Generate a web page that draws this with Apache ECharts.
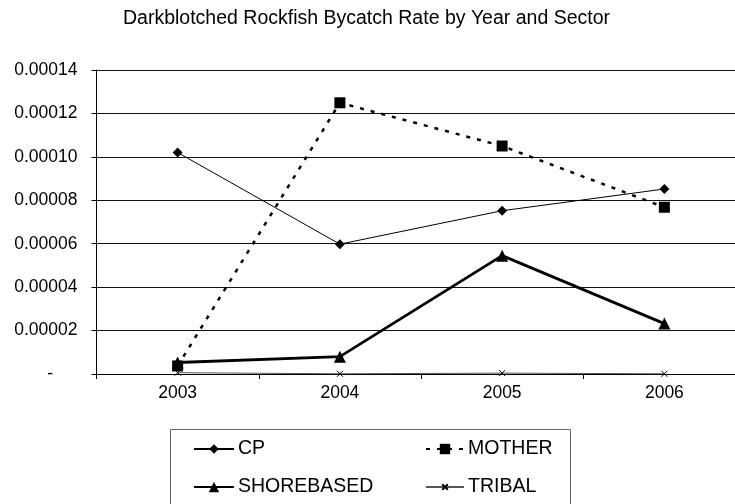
<!DOCTYPE html>
<html>
<head>
<meta charset="utf-8">
<script src="https://cdn.jsdelivr.net/npm/echarts@6/dist/echarts.min.js"></script>
<style>
  html, body { margin: 0; padding: 0; background: #fff; overflow: hidden; width: 735px; height: 504px; }
  /* the drawing is a little wider than the window so the plot runs off the right edge */
  #chart { width: 760px; height: 504px; }
</style>
</head>
<body>
<div id="chart"></div>
<script>
// Bycatch rate per sector, by year
const years = ['2003', '2004', '2005', '2006'];
const cp = [0.000102, 0.0000598, 0.0000752, 0.0000852];
const mother = [0.0000037, 0.0001249, 0.000105, 0.0000768];
const shorebased = [0.0000053, 0.000008, 0.0000545, 0.0000232];
const tribal = [0.0000006, 0.0000001, 0.0000004, 0.0000001];

const yTicks = { min: 0, max: 0.00014, step: 0.00002 };

const FONT = '"Liberation Sans", Arial, sans-serif';
const crossPath = 'path://M0,0L8,8M8,0L0,8';

const chart = echarts.init(document.getElementById('chart'), null, { renderer: 'canvas' });

function legendAt(name, left, top, itemWidth, itemHeight) {
  return {
    data: [name],
    left: left,
    top: top,
    orient: 'horizontal',
    itemWidth: itemWidth,
    itemHeight: itemHeight,
    itemGap: 0,
    padding: 0,
    selectedMode: false,
    textStyle: { fontFamily: FONT, fontSize: 19.5, color: '#000', lineHeight: 22, padding: [0, 0, 0, -1] }
  };
}

chart.setOption({
  animation: false,
  backgroundColor: '#fff',
  title: {
    text: 'Darkblotched Rockfish Bycatch Rate by Year and Sector',
    left: 123,
    top: 9,
    padding: 0,
    textStyle: { fontFamily: FONT, fontSize: 19.5, fontWeight: 'normal', color: '#000' }
  },
  grid: { left: 96.5, top: 70, bottom: 130, width: 649, containLabel: false },
  legend: [
    legendAt('CP', 193, 438, 40, 12),
    legendAt('SHOREBASED', 193, 476, 40, 13),
    legendAt('MOTHER', 425, 438, 38, 13),
    legendAt('TRIBAL', 425, 476, 38, 7)
  ],
  graphic: [{
    type: 'rect',
    shape: { x: 170.5, y: 429.5, width: 400, height: 100 },
    style: { fill: 'none', stroke: '#666', lineWidth: 1 },
    silent: true,
    z: 0
  }],
  xAxis: {
    type: 'category',
    data: years,
    boundaryGap: true,
    axisLine: { show: true, lineStyle: { color: '#000', width: 1 } },
    axisTick: { show: true, length: 5, lineStyle: { color: '#000' } },
    axisLabel: { fontFamily: FONT, fontSize: 17.5, color: '#000', margin: 10 }
  },
  yAxis: {
    type: 'value',
    min: yTicks.min,
    max: yTicks.max,
    interval: yTicks.step,
    axisLine: { show: true, lineStyle: { color: '#000', width: 1 } },
    axisTick: { show: true, length: 5, lineStyle: { color: '#000' } },
    splitLine: { show: true, lineStyle: { color: '#111', width: 1 } },
    axisLabel: {
      fontFamily: FONT, fontSize: 17.5, color: '#000', margin: 19,
      formatter: function (v) { return v === 0 ? '-     ' : v.toFixed(5); }
    }
  },
  series: [
    {
      name: 'CP', type: 'line', data: cp,
      symbol: 'diamond', symbolSize: 10, showSymbol: true,
      itemStyle: { color: '#000' },
      lineStyle: { color: '#000', width: 1 },
      z: 3
    },
    {
      name: 'MOTHER', type: 'line', data: mother,
      symbol: 'rect', symbolSize: 11, showSymbol: true,
      itemStyle: { color: '#000' },
      lineStyle: { color: '#000', width: 2.5, type: [4, 7] },
      z: 4
    },
    {
      name: 'SHOREBASED', type: 'line', data: shorebased,
      symbol: 'triangle', symbolSize: 12, showSymbol: true,
      itemStyle: { color: '#000' },
      lineStyle: { color: '#000', width: 2.8 },
      z: 3
    },
    {
      name: 'TRIBAL', type: 'line', data: tribal,
      symbol: crossPath, symbolSize: 6, showSymbol: true,
      itemStyle: { color: '#000', borderColor: '#000', borderWidth: 1 },
      lineStyle: { color: '#555', width: 1 },
      z: 2
    }
  ]
});
</script>
</body>
</html>
